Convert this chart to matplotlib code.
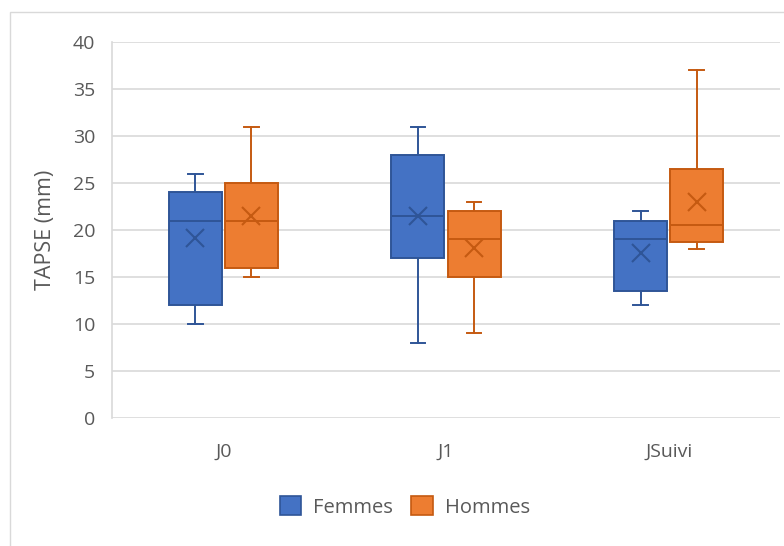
import matplotlib
matplotlib.use("Agg")
import matplotlib.pyplot as plt
from matplotlib.patches import Rectangle, Patch

categories = ["J0", "J1", "JSuivi"]
series = ["Femmes", "Hommes"]

# five-number summaries + mean, per series, per category
fem_min = [10, 8, 12]
fem_q1 = [12, 17, 13.5]
fem_med = [21, 21.5, 19]
fem_q3 = [24, 28, 21]
fem_max = [26, 31, 22]
fem_mean = [19.2, 21.5, 17.6]

hom_min = [15, 9, 18]
hom_q1 = [16, 15, 18.7]
hom_med = [21, 19, 20.5]
hom_q3 = [25, 22, 26.5]
hom_max = [31, 23, 37]
hom_mean = [21.5, 18.1, 23]

yticks = [0, 5, 10, 15, 20, 25, 30, 35, 40]

fill_colors = ["#4472C4", "#ED7D31"]
edge_colors = ["#2F5597", "#C55A11"]
text_color = "#595959"
grid_color = "#D9D9D9"

plt.rcParams['font.family'] = ['Open Sans', 'DejaVu Sans']

fig = plt.figure(figsize=(7.84, 5.46), dpi=100)
W, H = 784, 546
ax = fig.add_axes([112 / W, 1 - 418 / H, 668 / W, (418 - 42) / H])

# chart border
fig.patches.append(Rectangle((10 / W, -0.1), 1.2, 1 - 12 / H + 0.1,
                             transform=fig.transFigure, fill=False,
                             edgecolor=grid_color, linewidth=1.0))

offsets = [-0.126, 0.126]
width = 0.238
data = [
    (fem_min, fem_q1, fem_med, fem_q3, fem_max, fem_mean),
    (hom_min, hom_q1, hom_med, hom_q3, hom_max, hom_mean),
]
for si, (mn, q1, md, q3, mx, me) in enumerate(data):
    stats = []
    for i in range(len(categories)):
        stats.append(dict(whislo=mn[i], q1=q1[i], med=md[i], q3=q3[i],
                          whishi=mx[i], mean=me[i], fliers=[]))
    pos = [i + 1 + offsets[si] for i in range(len(categories))]
    ec = edge_colors[si]
    ax.bxp(stats, positions=pos, widths=width, patch_artist=True,
           showmeans=True, showfliers=False,
           boxprops=dict(facecolor=fill_colors[si], edgecolor=ec, linewidth=1.4),
           medianprops=dict(color=ec, linewidth=1.4),
           whiskerprops=dict(color=ec, linewidth=1.4),
           capprops=dict(color=ec, linewidth=1.4),
           capwidths=0.066,
           meanprops=dict(marker='x', markeredgecolor=ec, markersize=12.5,
                          markeredgewidth=1.5), zorder=3)

ax.set_xlim(0.5, 3.5)
ax.set_ylim(0, 40)
ax.set_yticks(yticks)
ax.set_xticks([1, 2, 3])
ax.set_xticklabels(categories)
ax.tick_params(axis='both', length=0, labelsize=14, colors=text_color)
ax.tick_params(axis='y', pad=12)
ax.tick_params(axis='x', pad=18)
ax.grid(axis='y', color=grid_color, linewidth=1.2, zorder=0)
ax.set_axisbelow(True)
for s in ['top', 'right', 'bottom']:
    ax.spines[s].set_visible(False)
ax.spines['left'].set_color(grid_color)
ax.spines['left'].set_linewidth(1.2)
ax.set_ylabel("TAPSE (mm)", fontsize=15.5, color=text_color, labelpad=12)

handles = [Patch(facecolor=fill_colors[i], edgecolor=edge_colors[i], linewidth=1.2,
                 label=series[i]) for i in range(2)]
fig.legend(handles=handles, loc='center', bbox_to_anchor=(405 / W, 1 - 507 / H),
           ncol=2, frameon=False, fontsize=14.5, labelcolor=text_color,
           handlelength=1.05, handleheight=1.05, handletextpad=0.6, columnspacing=0.9)

fig.savefig("out.png", dpi=100)
